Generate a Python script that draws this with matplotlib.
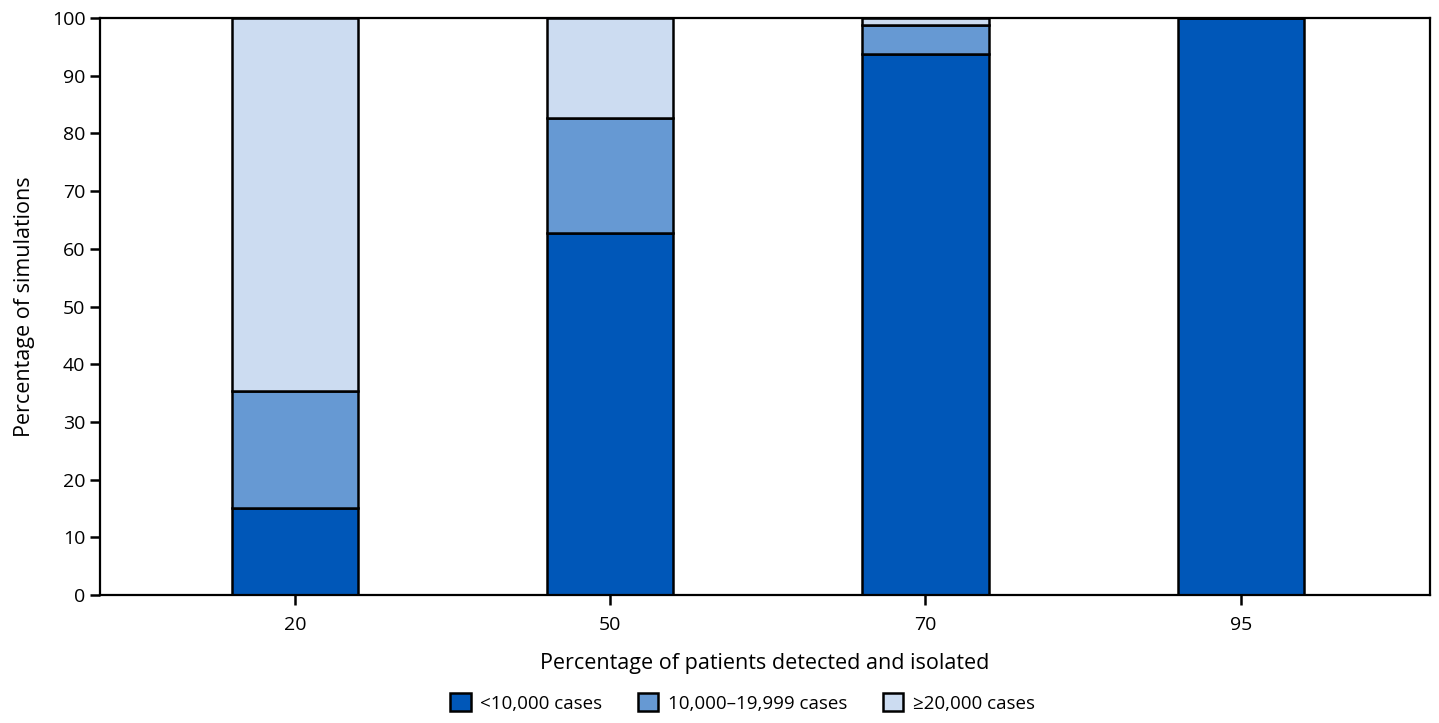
import numpy as np
import matplotlib
matplotlib.use("Agg")
import matplotlib.pyplot as plt

plt.rcParams['font.family'] = ['Open Sans', 'DejaVu Sans']

categories = ["20", "50", "70", "95"]
under_10k = [15.0, 62.7, 93.8, 100.0]
mid_10k_20k = [20.3, 20.0, 5.0, 0.0]
over_20k = [64.7, 17.3, 1.2, 0.0]

labels = ["<10,000 cases", "10,000\u201319,999 cases", "\u226520,000 cases"]
colors = ["#0057B8", "#6699D3", "#CCDCF1"]

fig = plt.figure(figsize=(14.39, 7.23), dpi=100)
ax = fig.add_axes([0.0695, 0.177, 0.9242, 0.798])

x = np.arange(len(categories))
w = 0.4
bottom = np.zeros(len(categories))
for vals, lab, col in zip([under_10k, mid_10k_20k, over_20k], labels, colors):
    vals = np.array(vals)
    ax.bar(x, vals, w, bottom=bottom, color=col, edgecolor="black",
           linewidth=1.8, label=lab)
    bottom += vals

ax.set_xlim(-0.618, 3.6)
ax.set_ylim(0, 100)
ax.set_yticks(range(0, 101, 10))
ax.set_xticks(x)
ax.set_xticklabels(categories)
ax.tick_params(axis="both", direction="out", length=7, width=1.8, labelsize=14)
ax.tick_params(axis="x", pad=8)
for s in ax.spines.values():
    s.set_linewidth(1.6)

ax.set_xlabel("Percentage of patients detected and isolated", fontsize=15.5, labelpad=14)
ax.set_ylabel("Percentage of simulations", fontsize=15.5, labelpad=12)

ax.legend(loc="upper center", bbox_to_anchor=(0.483, -0.141), ncol=3, frameon=False,
          fontsize=13.5, handlelength=1.1, handleheight=1.1, handletextpad=0.5,
          columnspacing=1.9)

fig.savefig("out.png", dpi=100)
